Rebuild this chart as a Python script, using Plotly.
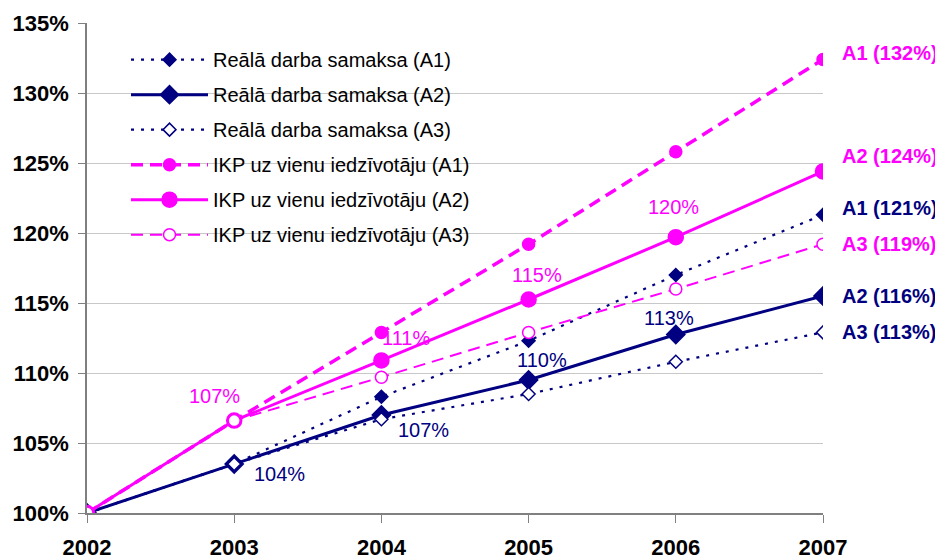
import plotly.graph_objects as go

# Data
years = [2002, 2003, 2004, 2005, 2006, 2007]

wage_a1 = [100, 103.5, 108.3, 112.3, 117.0, 121.3]
wage_a2 = [100, 103.5, 107.0, 109.5, 112.75, 115.5]
wage_a3 = [100, 103.5, 106.7, 108.5, 110.8, 112.9]

gdp_a1 = [100, 106.6, 112.9, 119.2, 125.8, 132.4]
gdp_a2 = [100, 106.6, 110.9, 115.25, 119.7, 124.4]
gdp_a3 = [100, 106.6, 109.7, 112.9, 116.0, 119.2]

names = [
    "Reālā darba samaksa (A1)",
    "Reālā darba samaksa (A2)",
    "Reālā darba samaksa (A3)",
    "IKP uz vienu iedzīvotāju (A1)",
    "IKP uz vienu iedzīvotāju (A2)",
    "IKP uz vienu iedzīvotāju (A3)",
]
end_tags = ["A1", "A2", "A3", "A1", "A2", "A3"]

y_ticks = [100, 105, 110, 115, 120, 125, 130, 135]

NAVY = "#000080"
MAGENTA = "#FF00FF"
FONT = "Liberation Sans, Arial, sans-serif"

fig = go.Figure()

# (values, color, line width, dash, marker symbol, marker size, marker fill)
styles = [
    (wage_a1, NAVY, 2.2, "3px,7px", "diamond", 10, NAVY),
    (wage_a2, NAVY, 3, "solid", "diamond", 14, NAVY),
    (wage_a3, NAVY, 2.2, "3px,7px", "diamond", 10, "white"),
    (gdp_a1, MAGENTA, 3.5, "12px,7px", "circle", 12, MAGENTA),
    (gdp_a2, MAGENTA, 3, "solid", "circle", 15, MAGENTA),
    (gdp_a3, MAGENTA, 2, "12px,7px", "circle", 12, "white"),
]

for i, (vals, col, lw, dash, sym, size, fill) in enumerate(styles):
    fig.add_trace(go.Scatter(
        x=years, y=vals, name=names[i], mode="lines+markers",
        legendgroup=str(i),
        line=dict(color=col, width=lw, dash=dash),
        marker=dict(symbol=sym, size=size, color=fill,
                    line=dict(color=col, width=1.5)),
    ))

# data labels on the A2 lines (2003-2006)
gdp_offsets = [(-20, 25), (25, 22), (8, 25), (-2, 30)]
wage_offsets = [(45, -10), (42, -15), (13, 20), (-7, 17)]
for k in range(1, 5):
    dx, dy = gdp_offsets[k - 1]
    fig.add_annotation(x=years[k], y=gdp_a2[k], text="%d%%" % int(gdp_a2[k] + 0.5),
                       showarrow=False, xshift=dx, yshift=dy,
                       font=dict(family=FONT, size=20, color=MAGENTA))
    dx, dy = wage_offsets[k - 1]
    fig.add_annotation(x=years[k], y=wage_a2[k], text="%d%%" % int(wage_a2[k] + 0.5),
                       showarrow=False, xshift=dx, yshift=dy,
                       font=dict(family=FONT, size=20, color=NAVY))

# end labels
series = [wage_a1, wage_a2, wage_a3, gdp_a1, gdp_a2, gdp_a3]
end_shift = [7, 0, 0, 6, 15, 0]
for i, vals in enumerate(series):
    col = NAVY if i < 3 else MAGENTA
    fig.add_annotation(x=years[-1], y=vals[-1],
                       text="<b>%s (%d%%)</b>" % (end_tags[i], int(vals[-1] + 0.5)),
                       showarrow=False, xanchor="left", xshift=17, yshift=end_shift[i],
                       font=dict(family=FONT, size=20, color=col))

# the page body has an 8px margin, so the figure is a bit smaller than the window
fig.update_layout(
    width=935, height=551,
    margin=dict(l=79, r=120, t=15, b=46),
    plot_bgcolor="white", paper_bgcolor="white",
    font=dict(family=FONT, color="black"),
    showlegend=True,
    legend=dict(x=0.053, y=0.965, xanchor="left", yanchor="top",
                font=dict(family=FONT, size=20, color="black"),
                itemwidth=77, tracegroupgap=6, bgcolor="rgba(0,0,0,0)"),
    xaxis=dict(range=[2002, 2007], tickvals=years, ticks="outside", ticklen=8,
               tickcolor="#808080", showline=True, linecolor="#808080", linewidth=1.5,
               showgrid=False, zeroline=False, ticklabelstandoff=6, automargin=False,
               tickfont=dict(family=FONT, size=22, color="black", weight="bold")),
    yaxis=dict(range=[100, 135], tickvals=y_ticks,
               ticktext=["%d%%" % v for v in y_ticks],
               ticks="outside", ticklen=7, tickcolor="#808080",
               showline=True, linecolor="#808080", linewidth=1.5,
               showgrid=True, gridcolor="#C8C8C8", gridwidth=1, zeroline=False,
               ticklabelstandoff=5, automargin=False,
               tickfont=dict(family=FONT, size=22, color="black", weight="bold")),
)

fig.write_html("out.html")
